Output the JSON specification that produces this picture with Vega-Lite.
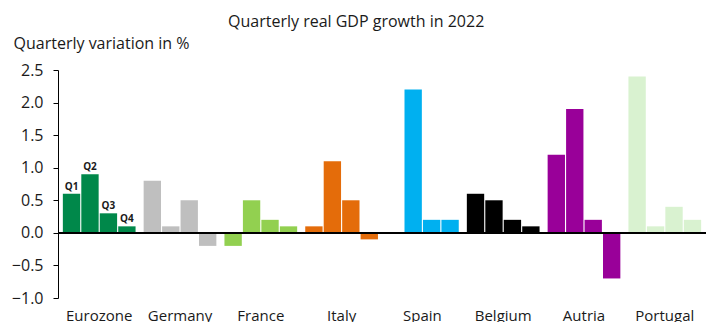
{
  "$schema": "https://vega.github.io/schema/vega-lite/v6.json",
  "autosize": "none",
  "width": 648,
  "height": 228,
  "padding": {"left": 58, "top": 70, "right": 6, "bottom": 24},
  "background": "white",
  "title": {
    "text": "Quarterly real GDP growth in 2022",
    "anchor": "start",
    "frame": "group",
    "dx": 170,
    "offset": 5,
    "font": "Open Sans",
    "fontSize": 16,
    "fontWeight": "normal",
    "color": "#1a1a1a"
  },
  "config": {
    "view": {"stroke": null},
    "font": "Open Sans"
  },
  "data": {
    "values": [
      {"country": "Eurozone", "quarter": "Q1", "value": 0.6},
      {"country": "Eurozone", "quarter": "Q2", "value": 0.9},
      {"country": "Eurozone", "quarter": "Q3", "value": 0.3},
      {"country": "Eurozone", "quarter": "Q4", "value": 0.1},
      {"country": "Germany", "quarter": "Q1", "value": 0.8},
      {"country": "Germany", "quarter": "Q2", "value": 0.1},
      {"country": "Germany", "quarter": "Q3", "value": 0.5},
      {"country": "Germany", "quarter": "Q4", "value": -0.2},
      {"country": "France", "quarter": "Q1", "value": -0.2},
      {"country": "France", "quarter": "Q2", "value": 0.5},
      {"country": "France", "quarter": "Q3", "value": 0.2},
      {"country": "France", "quarter": "Q4", "value": 0.1},
      {"country": "Italy", "quarter": "Q1", "value": 0.1},
      {"country": "Italy", "quarter": "Q2", "value": 1.1},
      {"country": "Italy", "quarter": "Q3", "value": 0.5},
      {"country": "Italy", "quarter": "Q4", "value": -0.1},
      {"country": "Spain", "quarter": "Q1", "value": 0.0},
      {"country": "Spain", "quarter": "Q2", "value": 2.2},
      {"country": "Spain", "quarter": "Q3", "value": 0.2},
      {"country": "Spain", "quarter": "Q4", "value": 0.2},
      {"country": "Belgium", "quarter": "Q1", "value": 0.6},
      {"country": "Belgium", "quarter": "Q2", "value": 0.5},
      {"country": "Belgium", "quarter": "Q3", "value": 0.2},
      {"country": "Belgium", "quarter": "Q4", "value": 0.1},
      {"country": "Autria", "quarter": "Q1", "value": 1.2},
      {"country": "Autria", "quarter": "Q2", "value": 1.9},
      {"country": "Autria", "quarter": "Q3", "value": 0.2},
      {"country": "Autria", "quarter": "Q4", "value": -0.7},
      {"country": "Portugal", "quarter": "Q1", "value": 2.4},
      {"country": "Portugal", "quarter": "Q2", "value": 0.1},
      {"country": "Portugal", "quarter": "Q3", "value": 0.4},
      {"country": "Portugal", "quarter": "Q4", "value": 0.2}
    ]
  },
  "encoding": {
    "x": {
      "field": "country",
      "type": "nominal",
      "sort": null,
      "scale": {"paddingInner": 0.1, "paddingOuter": 0.06},
      "axis": {
        "title": null,
        "domain": false,
        "ticks": false,
        "labelAngle": 0,
        "labelPadding": 10,
        "labelFont": "Open Sans",
        "labelFontSize": 15,
        "labelColor": "#1a1a1a"
      }
    },
    "xOffset": {
      "field": "quarter",
      "type": "nominal",
      "scale": {"paddingInner": 0.06, "paddingOuter": 0}
    },
    "y": {
      "field": "value",
      "type": "quantitative",
      "scale": {"domain": [-1, 2.5], "nice": false, "zero": false},
      "axis": {
        "title": "Quarterly variation in %",
        "titleAngle": 0,
        "titleAlign": "left",
        "titleBaseline": "alphabetic",
        "titleX": -45,
        "titleY": -22,
        "titleFont": "Open Sans",
        "titleFontSize": 16,
        "titleFontWeight": "normal",
        "titleColor": "#1a1a1a",
        "values": [-1, -0.5, 0, 0.5, 1, 1.5, 2, 2.5],
        "format": ".1f",
        "labelOverlap": false,
        "labelFlush": false,
        "grid": false,
        "domainColor": "#000000",
        "domainWidth": 1,
        "tickColor": "#000000",
        "tickSize": 5,
        "labelPadding": 10,
        "labelFont": "Open Sans",
        "labelFontSize": 16,
        "labelColor": "#1a1a1a"
      }
    }
  },
  "layer": [
    {
      "mark": {"type": "bar"},
      "encoding": {
        "color": {
          "field": "country",
          "type": "nominal",
          "legend": null,
          "scale": {
            "domain": ["Eurozone", "Germany", "France", "Italy", "Spain", "Belgium", "Autria", "Portugal"],
            "range": ["#00884A", "#BFBFBF", "#92D050", "#E46C0A", "#00B0F0", "#000000", "#990099", "#D9F2D0"]
          }
        }
      }
    },
    {
      "transform": [{"filter": "datum.country === 'Eurozone'"}],
      "mark": {"type": "text", "baseline": "bottom", "dy": -2, "fontSize": 10, "fontWeight": "bold", "font": "Open Sans", "color": "#1a1a1a"},
      "encoding": {
        "text": {"field": "quarter"}
      }
    },
    {
      "mark": {"type": "rule", "color": "#000000", "strokeWidth": 1.5},
      "encoding": {
        "x": null,
        "xOffset": null,
        "y": {"datum": 0}
      }
    }
  ]
}
